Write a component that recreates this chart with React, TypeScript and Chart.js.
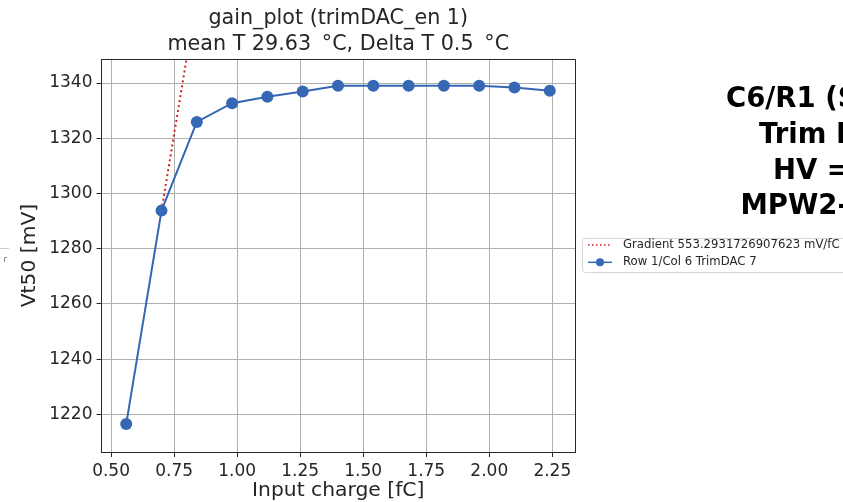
import React, { useEffect, useRef } from "react";
import { Chart, registerables } from "chart.js";

Chart.register(...registerables);

const charge = [0.56, 0.7, 0.84, 0.98, 1.12, 1.26, 1.4, 1.54, 1.68, 1.82, 1.96, 2.1, 2.24];
const vt50 = [1216.5, 1293.8, 1325.9, 1332.7, 1335.0, 1336.9, 1339.0, 1339.0, 1339.0, 1339.0, 1339.0, 1338.4, 1337.2];
const gradX = [0.7, 0.84];
const gradY = [1293.8, 1371.3];
const xTicks = [0.5, 0.75, 1.0, 1.25, 1.5, 1.75, 2.0, 2.25];
const yTicks = [1220, 1240, 1260, 1280, 1300, 1320, 1340];
const titleLines = ["gain_plot (trimDAC_en 1)", "mean T 29.63 \u2009\u00B0C, Delta T 0.5 \u2009\u00B0C"];
const xLabel = "Input charge [fC]";
const yLabel = "Vt50 [mV]";
const gradLabel = "Gradient 553.2931726907623 mV/fC";
const rowLabel = "Row 1/Col 6 TrimDAC 7";
const sideText = ["C6/R1 (S", "Trim DAC", "HV =", "MPW2-"];

const BLUE = "#3567b5";
const RED = "#cc2222";
const TXT = "#262626";
const FONT = "'DejaVu Sans', sans-serif";

const overlay = {
  id: "overlay",
  afterDraw(chart: any) {
    const ctx = chart.ctx as CanvasRenderingContext2D;
    const a = chart.chartArea;
    ctx.save();
    // spines top/right
    ctx.strokeStyle = TXT;
    ctx.lineWidth = 1;
    ctx.beginPath();
    ctx.moveTo(a.left, a.top + 0.5);
    ctx.lineTo(a.right + 0.5, a.top + 0.5);
    ctx.lineTo(a.right + 0.5, a.bottom);
    ctx.stroke();

    const cx = (a.left + a.right) / 2;
    ctx.fillStyle = TXT;
    ctx.textAlign = "center";
    ctx.textBaseline = "middle";
    ctx.font = `20.7px ${FONT}`;
    ctx.fillText(titleLines[0], cx, 18.5);
    ctx.fillText(titleLines[1], cx, 44.5);
    ctx.font = `20.3px ${FONT}`;
    ctx.fillText(xLabel, cx, 491);
    ctx.save();
    ctx.translate(30, (a.top + a.bottom) / 2);
    ctx.rotate(-Math.PI / 2);
    ctx.fillText(yLabel, 0, 0);
    ctx.restore();

    // legend
    const lx = 582.5, ly = 238.5, lw = 280, lh = 34;
    ctx.beginPath();
    const r = 3;
    ctx.moveTo(lx + r, ly);
    ctx.lineTo(lx + lw - r, ly);
    ctx.arcTo(lx + lw, ly, lx + lw, ly + r, r);
    ctx.lineTo(lx + lw, ly + lh - r);
    ctx.arcTo(lx + lw, ly + lh, lx + lw - r, ly + lh, r);
    ctx.lineTo(lx + r, ly + lh);
    ctx.arcTo(lx, ly + lh, lx, ly + lh - r, r);
    ctx.lineTo(lx, ly + r);
    ctx.arcTo(lx, ly, lx + r, ly, r);
    ctx.closePath();
    ctx.fillStyle = "rgba(255,255,255,0.8)";
    ctx.fill();
    ctx.strokeStyle = "#d6d6d6";
    ctx.stroke();

    const y1 = 245, y2 = 262.3;
    ctx.strokeStyle = RED;
    ctx.lineWidth = 1.5;
    ctx.setLineDash([1.5, 2.5]);
    ctx.beginPath();
    ctx.moveTo(588, y1);
    ctx.lineTo(612, y1);
    ctx.stroke();
    ctx.setLineDash([]);
    ctx.strokeStyle = BLUE;
    ctx.lineWidth = 1.5;
    ctx.beginPath();
    ctx.moveTo(588, y2);
    ctx.lineTo(612, y2);
    ctx.stroke();
    ctx.fillStyle = BLUE;
    ctx.beginPath();
    ctx.arc(600, y2, 4, 0, Math.PI * 2);
    ctx.fill();

    ctx.fillStyle = TXT;
    ctx.textAlign = "left";
    ctx.font = `11.7px ${FONT}`;
    ctx.fillText(gradLabel, 623, y1);
    ctx.fillText(rowLabel, 623, y2);

    // side text
    ctx.fillStyle = "#000";
    ctx.textBaseline = "alphabetic";
    ctx.font = `bold 27.5px 'DejaVu Sans', sans-serif`;
    const sx = [726, 759, 773, 740.5];
    const sy = [107.3, 143.3, 179.3, 214];
    sideText.forEach((t, i) => ctx.fillText(t, sx[i], sy[i]));

    // left-edge fragment
    ctx.strokeStyle = "#cfcfcf";
    ctx.lineWidth = 1;
    ctx.beginPath();
    ctx.moveTo(0, 248.5);
    ctx.lineTo(9, 248.5);
    ctx.stroke();
    ctx.strokeStyle = "#888";
    ctx.beginPath();
    ctx.moveTo(4.5, 262);
    ctx.lineTo(4.5, 257.5);
    ctx.lineTo(7, 257.5);
    ctx.stroke();
    ctx.restore();
  },
};

export default function App() {
  const ref = useRef<HTMLCanvasElement>(null);
  useEffect(() => {
    if (!ref.current) return;
    const chart = new Chart(ref.current, {
      type: "scatter",
      data: {
        datasets: [
          {
            label: gradLabel,
            data: gradX.map((x, i) => ({ x, y: gradY[i] })),
            showLine: true,
            borderColor: RED,
            borderWidth: 2,
            borderDash: [2, 3],
            pointRadius: 0,
            order: 1,
          },
          {
            label: rowLabel,
            data: charge.map((x, i) => ({ x, y: vt50[i] })),
            showLine: true,
            borderColor: BLUE,
            backgroundColor: BLUE,
            borderWidth: 2,
            pointRadius: 6,
            pointBackgroundColor: BLUE,
            pointBorderColor: BLUE,
            pointBorderWidth: 0,
            order: 0,
          },
        ],
      },
      options: {
        responsive: false,
        animation: false,
        devicePixelRatio: 1,
        layout: { padding: { left: 0, top: 59, right: 268, bottom: 0 } },
        plugins: { legend: { display: false }, title: { display: false }, tooltip: { enabled: false } },
        scales: {
          x: {
            type: "linear",
            min: 0.462,
            max: 2.34,
            afterBuildTicks: (s: any) => {
              s.ticks = xTicks.map((v) => ({ value: v }));
            },
            afterFit: (s: any) => {
              s.height = 50;
            },
            ticks: {
              autoSkip: false,
              maxRotation: 0,
              color: TXT,
              font: { family: FONT, size: 17 },
              padding: 4,
              callback: (v: any) => Number(v).toFixed(2),
            },
            grid: { color: "#b0b0b0", lineWidth: 1, tickColor: TXT, tickLength: 5, drawTicks: true },
            border: { color: TXT, width: 1 },
          },
          y: {
            type: "linear",
            min: 1206.4,
            max: 1348.7,
            afterBuildTicks: (s: any) => {
              s.ticks = yTicks.map((v) => ({ value: v }));
            },
            afterFit: (s: any) => {
              s.width = 101.5;
            },
            ticks: {
              autoSkip: false,
              color: TXT,
              font: { family: FONT, size: 17 },
              padding: 4,
              callback: (v: any) => String(v),
            },
            grid: { color: "#b0b0b0", lineWidth: 1, tickColor: TXT, tickLength: 5, drawTicks: true },
            border: { color: TXT, width: 1 },
          },
        },
      },
      plugins: [overlay],
    });
    return () => chart.destroy();
  }, []);
  return (
    <div style={{ position: "fixed", left: 0, top: 0, width: 843, height: 502, background: "#fff" }}>
      <canvas ref={ref} width={843} height={502} style={{ display: "block" }} />
    </div>
  );
}
